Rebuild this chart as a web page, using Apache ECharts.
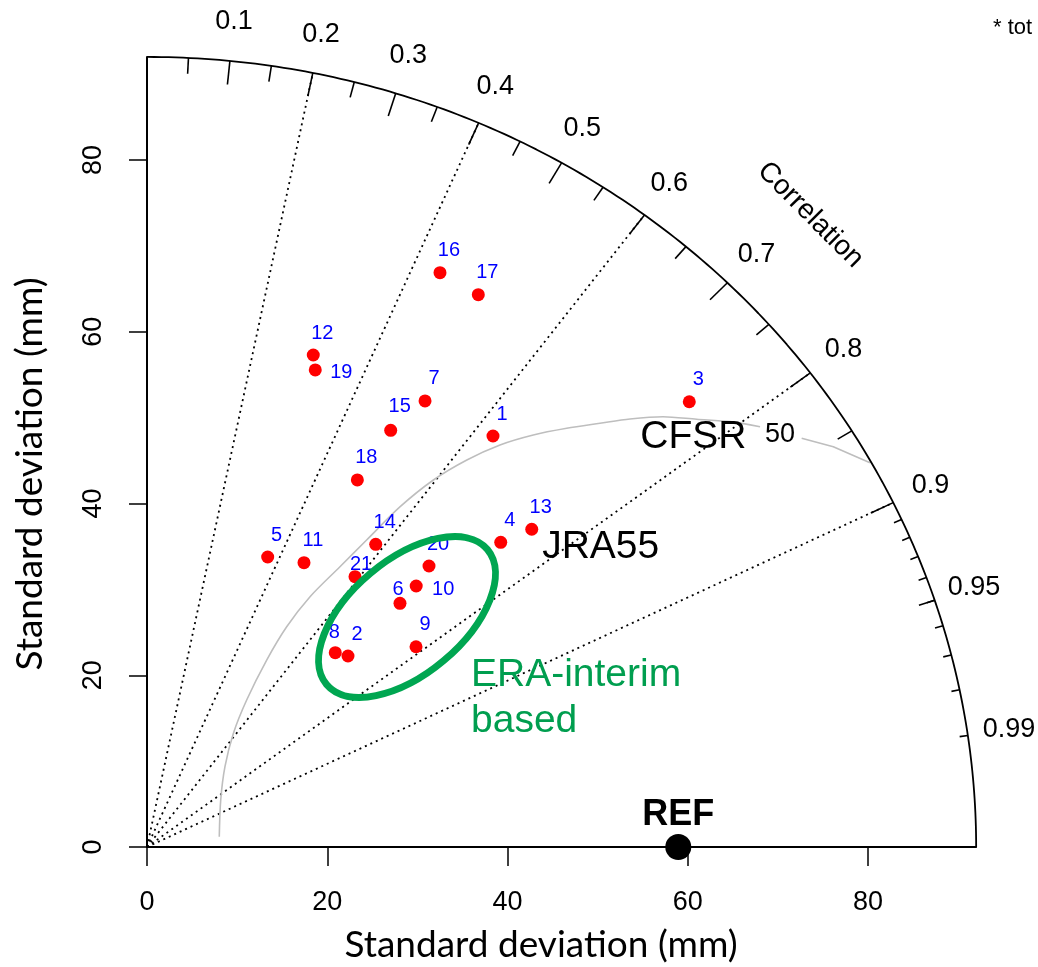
<!DOCTYPE html>
<html>
<head>
<meta charset="utf-8">
<script src="https://cdn.jsdelivr.net/npm/echarts@6/dist/echarts.min.js"></script>
<style>
  html, body { margin: 0; padding: 0; background: #fff; }
  #chart { width: 1038px; height: 967px; }
</style>
</head>
<body>
<div id="chart"></div>
<script>
// points: x = sd * cor, y = sd * sqrt(1 - cor^2)  (mm)
const pointIds = ['1', '2', '3', '4', '5', '6', '7', '8', '9', '10', '11',
  '12', '13', '14', '15', '16', '17', '18', '19', '20', '21']
const pointX = [38.39, 22.30, 60.17, 39.25, 13.39, 28.07, 30.85, 20.89, 29.85, 29.87, 17.42,
  18.45, 42.69, 25.38, 27.04, 32.51, 36.76, 23.34, 18.67, 31.29, 23.08]
const pointY = [47.86, 22.24, 51.85, 35.48, 33.77, 28.38, 51.94, 22.63, 23.32, 30.39, 33.11,
  57.29, 37.00, 35.25, 48.52, 66.88, 64.32, 42.74, 55.55, 32.72, 31.48]

const refSd = 58.95
const maxSd = 92

const sdTicks = [0, 20, 40, 60, 80]
const corrLabels = [0.1, 0.2, 0.3, 0.4, 0.5, 0.6, 0.7, 0.8, 0.9, 0.95, 0.99]
const corrLines = [0.2, 0.4, 0.6, 0.8, 0.9]
const bigTicks = [0.1, 0.2, 0.3, 0.4, 0.5, 0.6, 0.7, 0.8, 0.9]
const medTicks = [0.05, 0.15, 0.25, 0.35, 0.45, 0.55, 0.65, 0.75, 0.85, 0.95]
const smallTicks = [0.91, 0.92, 0.93, 0.94, 0.95, 0.96, 0.97, 0.98, 0.99]

// centred rms = 50 contour (gap where "50" sits)
const rmsLeft = [[8.02, 1.20], [8.18, 5.47], [8.65, 9.35], [9.58, 13.23], [11.06, 17.12],
  [13.28, 21.77], [15.50, 25.65], [18.09, 29.15], [21.41, 32.64], [24.37, 35.75],
  [28.09, 39.63], [31.78, 42.74], [35.49, 45.07], [39.17, 46.82], [42.86, 47.98],
  [46.57, 48.76], [50.26, 49.34], [53.59, 49.84], [57.25, 50.11], [60.99, 49.81],
  [64.69, 49.53], [68.02, 48.94]]
const rmsRight = [[72.64, 47.59], [76.15, 46.61], [80.22, 44.75]]

// label nudges (px) for crowded points, default is up and right
const labelShift = { '19': [26, 3], '10': [27, 3], '21': [6, -12], '6': [-2, -14], '8': [-1, -20], '15': [9, -24] }

const font = "'Liberation Sans', Arial, sans-serif"

const polar = (c, r) => [r * c, r * Math.sqrt(1 - c * c)]

const arc = []
for (let a = 0; a <= 90; a += 0.5) {
  const t = a * Math.PI / 180
  arc.push([maxSd * Math.cos(t), maxSd * Math.sin(t)])
}

const tickSegs = (list, k) => list.map(c => ({ coords: [polar(c, maxSd), polar(c, maxSd * k)] }))

const chart = echarts.init(document.getElementById('chart'))

chart.setOption({
  animation: false,
  grid: { left: 147, right: 61.85, top: 56.95, bottom: 120, containLabel: false, outerBoundsMode: 'none' },
  xAxis: {
    type: 'value', min: 0, max: maxSd,
    splitLine: { show: false },
    axisLine: { onZero: false, lineStyle: { color: '#000', width: 2 } },
    axisTick: { customValues: sdTicks, length: 19, lineStyle: { color: '#000', width: 1.5 } },
    axisLabel: { customValues: sdTicks, margin: 42, fontSize: 27, color: '#000', fontFamily: font }
  },
  yAxis: {
    type: 'value', min: 0, max: maxSd,
    splitLine: { show: false },
    axisLine: { onZero: false, lineStyle: { color: '#000', width: 2 } },
    axisTick: { customValues: sdTicks, length: 18, lineStyle: { color: '#000', width: 1.5 } },
    axisLabel: { customValues: sdTicks, rotate: 90, margin: 40, fontSize: 27, color: '#000', fontFamily: font }
  },
  series: [
    {
      type: 'line', data: arc, showSymbol: false, clip: false, silent: true, z: 3,
      lineStyle: { color: '#000', width: 1.8 }
    },
    {
      type: 'lines', coordinateSystem: 'cartesian2d', clip: false, silent: true, z: 2,
      data: corrLines.map(c => ({ coords: [[0, 0], polar(c, maxSd)] })),
      lineStyle: { color: '#000', width: 1.8, type: [2, 4], opacity: 1 }
    },
    {
      type: 'lines', coordinateSystem: 'cartesian2d', clip: false, silent: true, z: 3,
      data: tickSegs(bigTicks, 0.97).concat(tickSegs(medTicks, 0.98), tickSegs(smallTicks, 0.99)),
      lineStyle: { color: '#000', width: 1.6, opacity: 1 }
    },
    {
      type: 'line', data: rmsLeft, showSymbol: false, clip: false, silent: true, z: 2, smooth: 0.3,
      lineStyle: { color: '#bebebe', width: 1.6 }
    },
    {
      type: 'line', data: rmsRight, showSymbol: false, clip: false, silent: true, z: 2,
      lineStyle: { color: '#bebebe', width: 1.6 }
    },
    {
      type: 'scatter', clip: false, z: 5, symbolSize: 13,
      itemStyle: { color: '#ff0000', opacity: 1 },
      label: {
        show: true, position: 'inside', offset: [9, -22], formatter: p => p.name,
        color: '#0000ff', opacity: 1, fontSize: 20, fontFamily: font
      },
      data: pointIds.map((id, i) => {
        const item = { name: id, value: [pointX[i], pointY[i]] }
        if (labelShift[id]) item.label = { offset: labelShift[id] }
        return item
      })
    },
    {
      type: 'scatter', clip: false, z: 6, symbolSize: 26,
      itemStyle: { color: '#000', opacity: 1 },
      label: {
        show: true, position: 'inside', offset: [0, -32], formatter: 'REF',
        color: '#000', opacity: 1, fontSize: 36, fontWeight: 'bold', fontFamily: font
      },
      data: [[refSd, 0]]
    },
    {
      type: 'scatter', clip: false, z: 4, symbolSize: 0, silent: true,
      itemStyle: { opacity: 1 },
      label: {
        show: true, position: 'inside', formatter: p => String(p.name),
        color: '#000', opacity: 1, fontSize: 27, fontFamily: font
      },
      data: corrLabels.map(c => ({ name: String(c), value: polar(c, maxSd * 1.05) }))
    }
  ]
})

// annotations, placed in data space
const px = v => chart.convertToPixel({ gridIndex: 0 }, v)
const txt = (text, at, size, color, extra) => Object.assign({
  type: 'text', z: 100, x: at[0], y: at[1],
  style: { text: text, x: 0, y: 0, fill: color, fontSize: size, fontFamily: font, align: 'center', verticalAlign: 'middle' }
}, extra || {})

const ell = px([28.85, 26.78])
const corrPos = px([maxSd * 0.8, maxSd * 0.8])

chart.setOption({
  graphic: [
    {
      type: 'ellipse', z: 100, x: ell[0], y: ell[1], rotation: 40 * Math.PI / 180,
      shape: { cx: 0, cy: 0, rx: 105, ry: 57 },
      style: { fill: 'none', stroke: '#00a651', lineWidth: 7 }
    },
    txt('CFSR', px([60.62, 47.71]), 39, '#000'),
    txt('JRA55', px([50.34, 34.93]), 39, '#000'),
    txt('50', px([70.24, 47.99]), 27, '#000'),
    txt('Correlation', corrPos, 28, '#000', { rotation: -Math.PI / 4 }),
    {
      type: 'text', z: 100, x: 471, y: 652,
      style: { text: 'ERA-interim\nbased', fill: '#009e4f', fontSize: 39, lineHeight: 46, fontFamily: font, align: 'left', verticalAlign: 'top' }
    },
    {
      type: 'text', z: 100, x: 993, y: 28,
      style: { text: '* tot', fill: '#000', fontSize: 22, fontFamily: font, align: 'left', verticalAlign: 'middle' }
    },
    {
      type: 'text', z: 100, x: 541, y: 945,
      style: { text: 'Standard deviation (mm)', fill: '#000', fontSize: 37, fontFamily: 'Lato, sans-serif', align: 'center', verticalAlign: 'middle' }
    },
    {
      type: 'text', z: 100, x: 30, y: 474, rotation: Math.PI / 2,
      style: { text: 'Standard deviation (mm)', fill: '#000', fontSize: 37, fontFamily: 'Lato, sans-serif', align: 'center', verticalAlign: 'middle' }
    }
  ]
})
</script>
</body>
</html>
